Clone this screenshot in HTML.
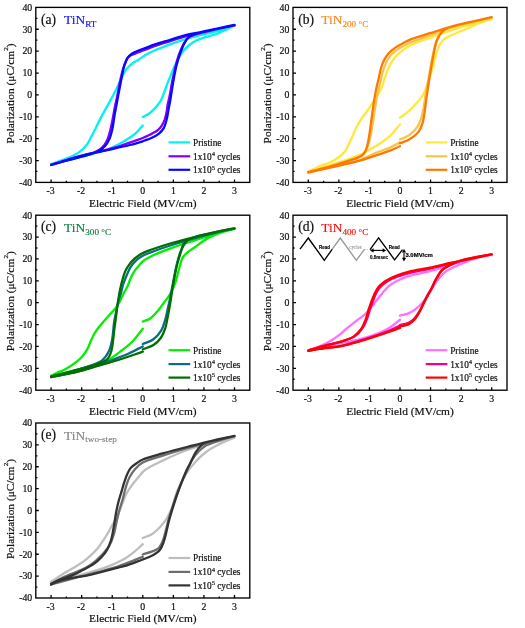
<!DOCTYPE html>
<html><head><meta charset="utf-8"><style>html,body{margin:0;padding:0;background:#fff;overflow:hidden}svg{display:block;filter:blur(0.3px)}</style></head><body>
<svg width="525" height="628" viewBox="0 0 525 628">
<rect width="100%" height="100%" fill="#fff"/>
<path d="M51.09 182.4v-3M66.37 182.4v-1.6M81.66 182.4v-3M96.94 182.4v-1.6M112.23 182.4v-3M127.51 182.4v-1.6M142.8 182.4v-3M158.09 182.4v-1.6M173.37 182.4v-3M188.66 182.4v-1.6M203.94 182.4v-3M219.23 182.4v-1.6M234.51 182.4v-3M35.8 171.46h1.6M35.8 160.53h3M35.8 149.59h1.6M35.8 138.65h3M35.8 127.71h1.6M35.8 116.78h3M35.8 105.84h1.6M35.8 94.9h3M35.8 83.96h1.6M35.8 73.03h3M35.8 62.09h1.6M35.8 51.15h3M35.8 40.21h1.6M35.8 29.27h3M35.8 18.34h1.6" stroke="#000" stroke-width="1.3" fill="none"/>
<path d="M142.80 116.91C144.74 115.91 146.75 115.19 148.61 113.93C150.63 112.57 152.76 110.59 154.42 108.90C155.85 107.45 156.96 106.03 158.09 104.53C159.20 103.04 160.21 101.71 161.14 99.93C162.29 97.75 163.20 94.89 164.20 92.27C165.24 89.57 166.22 86.67 167.26 83.96C168.26 81.35 169.29 78.84 170.31 76.31C171.33 73.81 172.32 71.26 173.37 68.87C174.37 66.60 175.38 64.40 176.43 62.31C177.42 60.33 178.42 58.39 179.49 56.62C180.47 54.98 181.49 53.45 182.54 52.02C183.53 50.69 184.26 49.62 185.60 48.31C187.50 46.43 190.35 43.92 193.24 42.18C196.40 40.29 200.03 39.02 203.94 37.59C208.48 35.92 213.95 34.93 218.92 32.99C224.14 30.96 229.32 28.04 234.51 25.56M234.51 25.56C228.30 27.53 221.80 29.80 215.87 31.46C210.54 32.95 205.64 33.90 200.58 35.18C195.56 36.45 190.59 37.61 185.60 39.12C180.50 40.66 175.39 42.52 170.31 44.37C165.20 46.23 159.36 48.39 155.03 50.28C151.73 51.71 149.22 52.86 146.47 54.43C143.72 56.00 141.10 58.03 138.52 59.68C136.12 61.22 133.50 62.45 131.49 64.06C129.70 65.47 128.24 66.99 126.90 68.65C125.60 70.28 124.61 72.01 123.54 73.90C122.36 75.99 121.32 78.27 120.18 80.68C118.89 83.40 117.76 86.27 116.20 89.43C114.30 93.30 111.81 97.81 109.48 102.12C107.03 106.63 104.20 111.42 101.83 115.90C99.63 120.08 97.62 124.39 95.72 128.15C94.09 131.38 92.70 134.25 91.13 137.12C89.64 139.85 88.47 142.53 86.55 144.99C84.47 147.66 81.85 150.32 78.91 152.43C75.78 154.67 72.25 156.15 68.21 157.90C63.23 160.05 56.79 161.98 51.09 164.02M51.09 164.46C56.18 163.15 60.53 162.02 66.37 160.53C74.20 158.52 86.50 155.49 93.89 153.53C98.88 152.19 102.33 151.54 106.42 150.03C110.59 148.49 114.70 146.43 118.65 144.34C122.55 142.27 126.73 139.77 129.96 137.56C132.55 135.78 134.58 134.27 136.69 132.31C138.87 130.27 140.76 127.79 142.80 125.53" fill="none" stroke="#00f2f2" stroke-width="2.3" stroke-linecap="round" stroke-linejoin="round"/>
<path d="M142.80 137.99C145.35 136.83 147.93 135.82 150.44 134.49C153.03 133.13 156.10 131.59 158.09 129.90C159.67 128.55 160.67 127.18 161.75 125.53C162.94 123.72 164.01 121.60 164.81 119.40C165.67 117.04 166.18 114.23 166.65 111.74C167.08 109.43 167.13 107.30 167.56 104.96C168.03 102.42 168.76 100.15 169.40 97.09C170.27 92.83 171.13 86.87 172.15 81.78C173.17 76.66 174.27 71.28 175.51 66.46C176.64 62.07 177.75 57.93 179.18 53.99C180.52 50.30 181.99 46.43 183.77 43.49C185.23 41.07 186.76 38.85 188.66 37.37C190.37 36.04 191.86 35.64 194.47 34.74C199.30 33.07 208.97 31.11 215.87 29.49C222.29 27.99 228.30 26.72 234.51 25.34M234.51 25.34C228.30 26.72 221.77 28.16 215.87 29.49C210.52 30.70 205.65 31.86 200.58 32.99C195.56 34.12 190.59 34.95 185.60 36.27C180.50 37.63 175.41 39.48 170.31 41.09C165.22 42.69 159.37 44.39 155.03 45.90C151.74 47.05 149.27 48.11 146.47 49.18C143.77 50.22 141.25 51.13 138.52 52.24C135.56 53.45 131.50 54.40 129.35 56.18C127.68 57.57 126.98 59.27 125.99 61.21C124.79 63.53 123.82 66.43 122.93 69.31C121.96 72.45 121.30 75.64 120.48 79.37C119.47 83.98 118.43 89.94 117.43 94.90C116.50 99.46 115.54 103.65 114.67 108.03C113.81 112.40 113.08 116.98 112.23 121.15C111.45 124.97 110.72 128.71 109.78 132.09C108.96 135.07 108.34 137.80 107.03 140.40C105.70 143.05 104.01 145.80 101.83 147.84C99.64 149.90 96.92 151.33 93.89 152.65C90.34 154.20 86.00 154.90 81.66 156.15C76.70 157.57 70.95 159.26 65.76 160.74C60.77 162.17 55.98 163.51 51.09 164.90M51.09 164.90C60.87 161.91 71.22 158.44 80.43 155.93C88.51 153.74 96.36 152.23 103.36 150.46C109.33 148.96 115.11 147.57 119.87 146.09C123.58 144.93 126.15 143.83 129.65 142.59C133.71 141.15 138.42 139.53 142.80 137.99" fill="none" stroke="#8000ff" stroke-width="2.3" stroke-linecap="round" stroke-linejoin="round"/>
<path d="M142.80 141.28C145.65 140.18 148.63 139.29 151.36 137.99C154.03 136.73 156.86 135.39 159.00 133.62C160.98 131.99 162.64 130.16 163.89 127.93C165.26 125.49 165.89 122.35 166.65 119.40C167.43 116.31 167.87 113.00 168.48 109.77C169.09 106.51 169.65 103.74 170.31 99.93C171.23 94.67 172.30 87.06 173.37 81.12C174.34 75.74 175.24 70.60 176.43 65.81C177.51 61.47 178.68 57.46 180.10 53.56C181.45 49.82 182.96 45.83 184.68 42.84C186.08 40.41 187.50 38.20 189.27 36.71C190.82 35.42 192.08 34.97 194.47 34.09C199.11 32.37 208.96 30.37 215.87 28.84C222.28 27.41 228.30 26.36 234.51 25.12M234.51 24.90C228.30 26.21 221.77 27.58 215.87 28.84C210.52 29.98 205.65 31.06 200.58 32.12C195.56 33.17 190.59 33.92 185.60 35.18C180.50 36.47 175.41 38.24 170.31 39.77C165.22 41.31 159.37 42.89 155.03 44.37C151.74 45.49 149.27 46.61 146.47 47.65C143.78 48.65 141.06 49.41 138.52 50.49C136.07 51.54 133.41 52.62 131.49 53.99C129.86 55.16 128.54 56.47 127.51 57.93C126.53 59.32 126.02 60.89 125.37 62.52C124.68 64.30 124.07 66.15 123.54 68.21C122.92 70.61 122.55 73.36 122.01 76.09C121.43 79.03 120.78 82.18 120.18 85.28C119.56 88.44 118.95 91.67 118.34 94.90C117.73 98.16 117.12 101.46 116.51 104.74C115.90 108.03 115.28 111.04 114.67 114.59C113.96 118.74 113.47 123.92 112.53 128.15C111.69 131.96 110.87 135.71 109.48 138.87C108.24 141.67 106.76 144.26 104.89 146.31C103.15 148.22 101.21 149.57 98.78 150.90C95.80 152.52 92.33 153.50 88.08 154.84C82.03 156.75 72.42 158.92 65.76 160.74C60.35 162.23 55.98 163.51 51.09 164.90M51.09 164.90C60.87 161.98 71.22 158.58 80.43 156.15C88.51 154.02 95.43 152.69 103.36 150.90C111.90 148.98 122.71 146.85 129.96 144.99C135.04 143.70 138.52 142.51 142.80 141.28" fill="none" stroke="#0808ff" stroke-width="2.3" stroke-linecap="round" stroke-linejoin="round"/>
<rect x="35.8" y="7.4" width="214" height="175" fill="none" stroke="#000" stroke-width="1.35"/>
<g style="font-family:'Liberation Serif',serif;font-size:9.8px" fill="#111" stroke="#111" stroke-width="0.2"><text x="50.59" y="194.3" text-anchor="middle">-3</text><text x="81.16" y="194.3" text-anchor="middle">-2</text><text x="111.73" y="194.3" text-anchor="middle">-1</text><text x="142.8" y="194.3" text-anchor="middle">0</text><text x="173.37" y="194.3" text-anchor="middle">1</text><text x="203.94" y="194.3" text-anchor="middle">2</text><text x="234.51" y="194.3" text-anchor="middle">3</text><text x="32.2" y="185.7" text-anchor="end">-40</text><text x="32.2" y="163.83" text-anchor="end">-30</text><text x="32.2" y="141.95" text-anchor="end">-20</text><text x="32.2" y="120.08" text-anchor="end">-10</text><text x="32.2" y="98.2" text-anchor="end">0</text><text x="32.2" y="76.33" text-anchor="end">10</text><text x="32.2" y="54.45" text-anchor="end">20</text><text x="32.2" y="32.57" text-anchor="end">30</text><text x="32.2" y="10.7" text-anchor="end">40</text></g>
<text x="142.8" y="206.7" text-anchor="middle" style="font-family:'Liberation Serif',serif;font-size:11.4px" fill="#111" stroke="#111" stroke-width="0.2">Electric Field (MV/cm)</text>
<text transform="translate(13.8 93.4) rotate(-90)" text-anchor="middle" style="font-family:'Liberation Serif',serif;font-size:11.4px" fill="#111" stroke="#111" stroke-width="0.2">Polarization (μC/cm<tspan dy="-6.2" dx="0.2" style="font-size:7.1px">2</tspan><tspan dy="6.2">)</tspan></text>
<text x="41" y="23.6" style="font-family:'Liberation Serif',serif;font-size:13.6px" fill="#111" stroke="#111" stroke-width="0.2">(a)</text>
<text x="64.1" y="24.3" style="font-family:'Liberation Serif',serif;font-size:13.4px" fill="#1010ff" stroke="#1010ff" stroke-width="0.15">TiN<tspan dy="2.5" style="font-size:9.2px">RT</tspan></text>
<line x1="168.5" x2="190.2" y1="142.4" y2="142.4" stroke="#00f2f2" stroke-width="2.2"/>
<text x="193" y="145.8" style="font-family:'Liberation Serif',serif;font-size:9.3px" fill="#111" stroke="#111" stroke-width="0.2">Pristine</text>
<line x1="168.5" x2="190.2" y1="156.3" y2="156.3" stroke="#8000ff" stroke-width="2.2"/>
<text x="193" y="159.7" style="font-family:'Liberation Serif',serif;font-size:9.3px" fill="#111" stroke="#111" stroke-width="0.2">1x10<tspan dy="-3.6" dx="0.3" style="font-size:6px">4</tspan><tspan dy="3.6"> cycles</tspan></text>
<line x1="168.5" x2="190.2" y1="169.8" y2="169.8" stroke="#0808ff" stroke-width="2.2"/>
<text x="193" y="173.2" style="font-family:'Liberation Serif',serif;font-size:9.3px" fill="#111" stroke="#111" stroke-width="0.2">1x10<tspan dy="-3.6" dx="0.3" style="font-size:6px">5</tspan><tspan dy="3.6"> cycles</tspan></text>
<path d="M308.29 182.4v-3M323.57 182.4v-1.6M338.86 182.4v-3M354.14 182.4v-1.6M369.43 182.4v-3M384.71 182.4v-1.6M400 182.4v-3M415.29 182.4v-1.6M430.57 182.4v-3M445.86 182.4v-1.6M461.14 182.4v-3M476.43 182.4v-1.6M491.71 182.4v-3M293 171.46h1.6M293 160.53h3M293 149.59h1.6M293 138.65h3M293 127.71h1.6M293 116.78h3M293 105.84h1.6M293 94.9h3M293 83.96h1.6M293 73.03h3M293 62.09h1.6M293 51.15h3M293 40.21h1.6M293 29.27h3M293 18.34h1.6" stroke="#000" stroke-width="1.3" fill="none"/>
<path d="M400.00 117.65C402.45 115.90 404.90 114.45 407.34 112.40C410.10 110.08 412.99 107.23 415.59 104.31C418.30 101.27 421.19 98.02 423.23 94.46C425.26 90.94 426.32 87.26 427.82 83.09C429.59 78.15 431.33 72.34 433.02 66.68C434.80 60.69 436.13 52.91 438.21 48.09C439.67 44.71 440.84 42.18 443.11 39.99C445.53 37.66 449.18 36.41 452.58 34.74C456.36 32.89 460.43 31.36 464.81 29.49C469.90 27.32 476.42 24.35 481.32 22.49C485.15 21.04 488.25 20.16 491.71 18.99M491.71 18.99C484.78 20.82 477.81 22.53 470.93 24.46C464.06 26.39 457.24 28.37 450.44 30.59C443.59 32.82 436.56 35.40 429.96 37.81C423.74 40.07 416.74 42.23 411.92 44.59C408.45 46.29 405.98 47.95 403.36 49.84C400.91 51.61 398.64 53.43 396.64 55.52C394.67 57.59 392.95 59.87 391.44 62.31C389.88 64.81 388.60 67.67 387.47 70.40C386.36 73.06 385.65 75.71 384.71 78.49C383.72 81.46 382.71 85.11 381.66 87.68C380.86 89.64 380.28 90.84 379.21 92.71C377.75 95.27 375.40 98.42 373.40 101.46C371.24 104.75 368.88 108.57 366.68 111.74C364.71 114.57 362.62 116.92 360.87 119.62C359.16 122.25 357.75 124.82 356.28 127.71C354.67 130.90 353.15 134.80 351.70 137.99C350.42 140.80 349.38 143.36 348.03 145.87C346.72 148.31 345.63 150.74 343.75 152.87C341.66 155.24 338.31 157.52 335.80 159.21C333.77 160.58 332.26 161.46 329.99 162.49C327.07 163.83 323.10 164.78 319.60 166.21C315.87 167.74 312.06 169.71 308.29 171.46M308.29 172.12C314.40 170.15 319.97 168.39 326.63 166.21C334.61 163.60 346.01 160.01 352.92 157.46C357.51 155.77 360.50 154.70 364.23 152.87C368.15 150.94 371.85 148.67 375.85 146.09C380.38 143.15 385.80 139.76 389.91 136.03C393.79 132.50 396.64 128.30 400.00 124.43" fill="none" stroke="#ffe83c" stroke-width="2.3" stroke-linecap="round" stroke-linejoin="round"/>
<path d="M400.00 139.53C403.06 138.07 406.35 137.15 409.17 135.15C412.20 133.00 415.33 129.99 417.43 126.84C419.47 123.77 420.60 120.19 421.71 116.56C422.88 112.71 423.47 108.22 424.15 104.31C424.77 100.74 425.04 97.86 425.68 94.03C426.49 89.14 427.70 83.10 428.74 77.40C429.84 71.38 430.86 64.69 432.10 58.81C433.23 53.44 434.15 47.96 435.77 43.49C437.12 39.76 438.53 36.20 440.66 33.65C442.52 31.42 444.27 30.13 447.39 28.62C452.69 26.04 463.31 24.18 470.93 22.27C478.05 20.49 484.78 19.07 491.71 17.46M491.71 17.46C484.78 19.14 477.82 20.74 470.93 22.49C464.06 24.24 457.22 25.83 450.44 27.96C443.57 30.12 436.57 33.00 429.96 35.40C423.76 37.65 416.79 39.96 411.92 41.96C408.51 43.37 406.12 44.40 403.36 45.90C400.61 47.39 397.77 49.07 395.41 50.93C393.22 52.66 391.24 54.50 389.61 56.62C387.98 58.73 386.75 61.16 385.63 63.62C384.50 66.12 383.68 68.75 382.88 71.49C382.03 74.42 381.48 77.53 380.74 80.68C379.96 84.01 379.07 87.35 378.29 90.96C377.43 94.96 376.63 99.22 375.85 103.65C374.99 108.51 374.19 114.06 373.40 118.96C372.67 123.51 372.03 128.04 371.26 132.09C370.59 135.61 369.96 138.93 369.12 141.93C368.40 144.55 367.74 147.05 366.68 149.15C365.75 150.99 364.77 152.64 363.31 153.96C361.76 155.37 359.77 156.21 357.51 157.24C354.59 158.58 351.02 159.64 347.11 160.96C342.13 162.65 336.06 164.67 329.99 166.43C323.21 168.40 315.52 170.22 308.29 172.12M308.29 172.34C315.52 170.66 322.25 169.12 329.99 167.31C338.90 165.22 350.58 163.29 358.73 160.53C365.11 158.36 369.86 155.30 375.24 153.09C380.24 151.03 385.53 149.57 389.91 147.62C393.64 145.96 396.64 144.12 400.00 142.37" fill="none" stroke="#f7c44a" stroke-width="2.3" stroke-linecap="round" stroke-linejoin="round"/>
<path d="M400.00 143.24C403.06 142.00 406.24 141.26 409.17 139.53C412.38 137.63 416.07 135.00 418.34 132.09C420.45 129.39 421.54 126.39 422.62 122.90C423.93 118.71 424.35 113.21 425.07 108.46C425.77 103.88 426.19 99.86 426.90 94.90C427.77 88.85 428.85 81.51 429.96 74.78C431.09 67.95 432.34 60.42 433.63 54.21C434.70 49.02 435.32 43.99 436.99 39.99C438.36 36.72 440.13 33.82 442.19 31.68C443.98 29.82 445.47 28.80 448.30 27.52C453.34 25.27 463.53 23.58 470.93 21.84C477.99 20.17 484.78 18.78 491.71 17.24M491.71 17.24C484.78 18.78 477.82 20.23 470.93 21.84C464.06 23.44 457.24 24.98 450.44 26.87C443.59 28.77 436.57 31.15 429.96 33.21C423.75 35.15 416.77 36.97 411.92 38.90C408.48 40.27 406.14 41.58 403.36 43.06C400.64 44.50 397.88 45.91 395.41 47.65C393.00 49.35 390.60 51.21 388.69 53.34C386.85 55.39 385.37 57.70 384.10 60.12C382.81 62.58 381.89 65.22 381.05 67.99C380.14 70.96 379.65 74.20 378.91 77.40C378.13 80.75 377.23 83.99 376.46 87.68C375.58 91.93 374.79 96.62 374.01 101.46C373.15 106.84 372.32 113.16 371.57 118.53C370.90 123.30 370.38 127.81 369.73 132.09C369.15 135.93 368.65 139.78 367.90 143.03C367.28 145.70 366.69 148.19 365.76 150.24C364.99 151.94 364.27 153.39 363.01 154.62C361.60 155.99 359.69 156.89 357.51 157.90C354.64 159.22 351.02 160.14 347.11 161.40C342.12 163.00 336.06 164.96 329.99 166.65C323.21 168.54 315.52 170.30 308.29 172.12M308.29 172.56C315.52 170.95 322.26 169.51 329.99 167.74C338.91 165.70 350.51 163.24 358.73 160.96C365.03 159.22 369.91 157.47 375.24 155.71C380.28 154.05 385.51 152.39 389.91 150.68C393.62 149.24 396.64 147.76 400.00 146.31" fill="none" stroke="#ff7800" stroke-width="2.3" stroke-linecap="round" stroke-linejoin="round"/>
<rect x="293" y="7.4" width="214" height="175" fill="none" stroke="#000" stroke-width="1.35"/>
<g style="font-family:'Liberation Serif',serif;font-size:9.8px" fill="#111" stroke="#111" stroke-width="0.2"><text x="307.79" y="194.3" text-anchor="middle">-3</text><text x="338.36" y="194.3" text-anchor="middle">-2</text><text x="368.93" y="194.3" text-anchor="middle">-1</text><text x="400" y="194.3" text-anchor="middle">0</text><text x="430.57" y="194.3" text-anchor="middle">1</text><text x="461.14" y="194.3" text-anchor="middle">2</text><text x="491.71" y="194.3" text-anchor="middle">3</text><text x="289.4" y="185.7" text-anchor="end">-40</text><text x="289.4" y="163.83" text-anchor="end">-30</text><text x="289.4" y="141.95" text-anchor="end">-20</text><text x="289.4" y="120.08" text-anchor="end">-10</text><text x="289.4" y="98.2" text-anchor="end">0</text><text x="289.4" y="76.33" text-anchor="end">10</text><text x="289.4" y="54.45" text-anchor="end">20</text><text x="289.4" y="32.57" text-anchor="end">30</text><text x="289.4" y="10.7" text-anchor="end">40</text></g>
<text x="400" y="206.7" text-anchor="middle" style="font-family:'Liberation Serif',serif;font-size:11.4px" fill="#111" stroke="#111" stroke-width="0.2">Electric Field (MV/cm)</text>
<text transform="translate(271 93.4) rotate(-90)" text-anchor="middle" style="font-family:'Liberation Serif',serif;font-size:11.4px" fill="#111" stroke="#111" stroke-width="0.2">Polarization (μC/cm<tspan dy="-6.2" dx="0.2" style="font-size:7.1px">2</tspan><tspan dy="6.2">)</tspan></text>
<text x="298.2" y="23.6" style="font-family:'Liberation Serif',serif;font-size:13.6px" fill="#111" stroke="#111" stroke-width="0.2">(b)</text>
<text x="321.3" y="24.3" style="font-family:'Liberation Serif',serif;font-size:13.4px" fill="#ff8418" stroke="#ff8418" stroke-width="0.15">TiN<tspan dy="2.5" style="font-size:9.2px">200 °C</tspan></text>
<line x1="425.7" x2="447.4" y1="142.4" y2="142.4" stroke="#ffe83c" stroke-width="2.2"/>
<text x="450.2" y="145.8" style="font-family:'Liberation Serif',serif;font-size:9.3px" fill="#111" stroke="#111" stroke-width="0.2">Pristine</text>
<line x1="425.7" x2="447.4" y1="156.3" y2="156.3" stroke="#f7c44a" stroke-width="2.2"/>
<text x="450.2" y="159.7" style="font-family:'Liberation Serif',serif;font-size:9.3px" fill="#111" stroke="#111" stroke-width="0.2">1x10<tspan dy="-3.6" dx="0.3" style="font-size:6px">4</tspan><tspan dy="3.6"> cycles</tspan></text>
<line x1="425.7" x2="447.4" y1="169.8" y2="169.8" stroke="#ff7800" stroke-width="2.2"/>
<text x="450.2" y="173.2" style="font-family:'Liberation Serif',serif;font-size:9.3px" fill="#111" stroke="#111" stroke-width="0.2">1x10<tspan dy="-3.6" dx="0.3" style="font-size:6px">5</tspan><tspan dy="3.6"> cycles</tspan></text>
<path d="M51.09 390.2v-3M66.37 390.2v-1.6M81.66 390.2v-3M96.94 390.2v-1.6M112.23 390.2v-3M127.51 390.2v-1.6M142.8 390.2v-3M158.09 390.2v-1.6M173.37 390.2v-3M188.66 390.2v-1.6M203.94 390.2v-3M219.23 390.2v-1.6M234.51 390.2v-3M35.8 379.26h1.6M35.8 368.32h3M35.8 357.39h1.6M35.8 346.45h3M35.8 335.51h1.6M35.8 324.57h3M35.8 313.64h1.6M35.8 302.7h3M35.8 291.76h1.6M35.8 280.82h3M35.8 269.89h1.6M35.8 258.95h3M35.8 248.01h1.6M35.8 237.07h3M35.8 226.14h1.6" stroke="#000" stroke-width="1.3" fill="none"/>
<path d="M142.80 321.51C145.25 320.49 147.77 320.04 150.14 318.45C153.01 316.52 155.97 312.96 158.39 310.14C160.60 307.56 162.29 304.85 164.20 302.26C166.06 299.75 168.02 297.63 169.70 294.82C171.63 291.61 173.37 287.99 174.90 283.89C176.72 278.99 178.01 272.06 179.49 267.26C180.64 263.53 181.30 260.03 182.85 257.42C184.10 255.30 185.66 253.93 187.43 252.39C189.38 250.70 191.76 249.50 194.16 247.79C197.00 245.78 200.43 242.94 203.33 241.01C205.79 239.39 207.77 238.13 210.36 236.86C213.31 235.40 216.53 234.14 220.15 232.92C224.44 231.47 229.72 230.29 234.51 228.98M234.51 228.98C227.69 230.80 220.84 232.49 214.03 234.45C207.18 236.42 200.39 238.62 193.55 240.79C186.64 242.99 179.44 245.17 172.76 247.57C166.42 249.85 159.68 252.31 154.42 254.79C150.21 256.78 146.27 258.70 143.41 260.92C141.20 262.64 139.85 264.49 138.21 266.39C136.59 268.28 134.94 270.17 133.63 272.29C132.29 274.46 131.29 276.94 130.27 279.29C129.26 281.61 128.59 283.96 127.51 286.29C126.37 288.77 124.81 291.22 123.54 293.73C122.26 296.25 121.19 298.99 119.87 301.39C118.63 303.64 117.20 305.97 115.90 307.73C114.87 309.12 114.07 309.84 112.84 311.23C110.98 313.34 108.14 316.46 105.81 319.11C103.46 321.78 100.80 324.56 98.78 327.20C97.01 329.51 95.53 331.65 94.19 333.98C92.89 336.25 91.92 338.57 90.83 340.98C89.68 343.52 88.81 346.39 87.47 348.86C86.15 351.27 84.62 353.56 82.88 355.64C81.15 357.71 79.43 359.40 77.07 361.32C74.01 363.82 69.42 366.93 65.76 368.98C62.62 370.74 59.24 371.85 56.59 373.14C54.51 374.15 52.92 375.03 51.09 375.98M51.09 376.64C58.22 374.74 65.99 372.71 72.49 370.95C77.93 369.47 82.95 367.96 87.47 366.79C91.15 365.84 94.21 365.45 97.55 364.39C101.03 363.28 104.45 362.12 107.95 360.23C111.98 358.05 116.14 354.79 120.18 351.70C124.40 348.47 128.93 345.05 132.71 341.20C136.46 337.39 139.44 332.89 142.80 328.73" fill="none" stroke="#00f000" stroke-width="2.3" stroke-linecap="round" stroke-linejoin="round"/>
<path d="M142.80 344.04C146.37 342.44 150.43 341.48 153.50 339.23C156.53 337.01 159.20 333.89 161.14 330.70C163.06 327.54 164.04 323.74 165.12 320.20C166.17 316.73 166.81 312.97 167.56 309.70C168.22 306.83 168.72 304.82 169.40 301.61C170.38 296.89 171.58 290.11 172.76 284.11C174.02 277.73 175.26 270.29 176.73 264.42C177.95 259.57 179.13 255.01 180.71 251.29C181.97 248.32 183.26 245.77 184.99 243.64C186.57 241.69 187.78 240.26 190.49 238.82C195.43 236.21 206.44 234.50 214.03 232.70C221.08 231.03 227.69 229.78 234.51 228.32M234.51 228.32C227.69 229.93 220.85 231.43 214.03 233.14C207.19 234.85 200.39 236.69 193.55 238.61C186.63 240.55 179.81 242.47 172.76 244.73C165.35 247.11 155.78 250.36 150.14 252.61C146.67 253.99 144.42 254.83 141.88 256.32C139.44 257.77 137.09 259.50 135.16 261.36C133.36 263.09 131.88 264.97 130.57 267.04C129.22 269.18 128.24 271.71 127.21 274.04C126.21 276.31 125.23 278.83 124.46 280.82C123.86 282.37 123.43 283.32 122.93 284.98C122.21 287.34 121.58 290.93 120.79 293.73C120.04 296.38 119.07 298.64 118.34 301.39C117.52 304.49 116.90 308.01 116.20 311.45C115.47 315.07 114.68 318.52 114.06 322.61C113.32 327.54 113.20 333.98 112.23 339.01C111.38 343.43 110.66 347.60 108.87 351.26C107.14 354.79 105.01 358.19 101.83 360.67C98.22 363.49 92.17 364.93 87.77 366.57C83.99 367.98 81.44 368.81 77.07 370.07C70.33 372.03 59.75 374.45 51.09 376.64M51.09 377.07C59.75 375.25 68.93 373.66 77.07 371.61C84.43 369.75 91.40 367.65 97.86 365.48C103.64 363.54 108.81 361.41 114.06 359.36C119.09 357.40 123.94 355.61 128.74 353.45C133.52 351.30 138.11 348.78 142.80 346.45" fill="none" stroke="#0a6e80" stroke-width="2.3" stroke-linecap="round" stroke-linejoin="round"/>
<path d="M142.80 349.29C146.37 347.84 150.40 346.95 153.50 344.92C156.48 342.97 159.19 340.26 161.14 337.48C163.00 334.84 164.01 332.07 165.12 328.73C166.47 324.63 167.28 319.04 168.17 314.51C168.99 310.40 169.58 307.04 170.31 302.70C171.21 297.40 171.99 291.05 173.07 284.98C174.21 278.53 175.61 270.94 177.04 265.07C178.19 260.34 179.63 255.95 180.71 252.39C181.50 249.77 181.85 247.58 182.85 245.61C183.74 243.84 184.76 242.26 186.21 241.01C187.77 239.67 189.38 238.96 192.02 237.95C196.93 236.08 206.81 234.11 214.03 232.48C220.96 230.92 227.69 229.71 234.51 228.32M234.51 228.32C227.69 229.71 220.85 230.99 214.03 232.48C207.19 233.98 200.39 235.59 193.55 237.29C186.63 239.02 179.81 240.71 172.76 242.76C165.35 244.92 155.78 247.89 150.14 249.98C146.67 251.27 144.48 252.03 141.88 253.48C139.28 254.94 136.72 256.78 134.55 258.73C132.47 260.59 130.64 262.68 129.04 264.86C127.49 266.99 126.14 269.25 125.07 271.64C123.99 274.06 123.32 276.92 122.62 279.29C122.03 281.32 121.60 282.87 121.09 284.98C120.47 287.58 119.81 290.74 119.26 293.73C118.68 296.86 118.19 300.14 117.73 303.36C117.27 306.56 116.89 310.03 116.51 312.98C116.18 315.50 115.92 317.50 115.59 319.98C115.22 322.79 114.76 325.81 114.37 328.95C113.94 332.41 113.65 336.21 113.15 339.89C112.63 343.65 112.43 347.85 111.31 351.26C110.30 354.34 109.20 357.51 107.03 359.57C104.78 361.72 101.59 362.34 97.86 363.73C92.38 365.77 84.40 367.82 77.07 369.86C68.91 372.12 59.75 374.38 51.09 376.64M51.09 377.07C59.75 375.32 68.93 373.80 77.07 371.82C84.42 370.04 90.96 367.89 97.86 365.92C104.71 363.96 111.24 362.24 118.34 360.01C126.16 357.56 134.65 354.47 142.80 351.70" fill="none" stroke="#006f00" stroke-width="2.3" stroke-linecap="round" stroke-linejoin="round"/>
<rect x="35.8" y="215.2" width="214" height="175" fill="none" stroke="#000" stroke-width="1.35"/>
<g style="font-family:'Liberation Serif',serif;font-size:9.8px" fill="#111" stroke="#111" stroke-width="0.2"><text x="50.59" y="402.1" text-anchor="middle">-3</text><text x="81.16" y="402.1" text-anchor="middle">-2</text><text x="111.73" y="402.1" text-anchor="middle">-1</text><text x="142.8" y="402.1" text-anchor="middle">0</text><text x="173.37" y="402.1" text-anchor="middle">1</text><text x="203.94" y="402.1" text-anchor="middle">2</text><text x="234.51" y="402.1" text-anchor="middle">3</text><text x="32.2" y="393.5" text-anchor="end">-40</text><text x="32.2" y="371.62" text-anchor="end">-30</text><text x="32.2" y="349.75" text-anchor="end">-20</text><text x="32.2" y="327.88" text-anchor="end">-10</text><text x="32.2" y="306" text-anchor="end">0</text><text x="32.2" y="284.12" text-anchor="end">10</text><text x="32.2" y="262.25" text-anchor="end">20</text><text x="32.2" y="240.38" text-anchor="end">30</text><text x="32.2" y="218.5" text-anchor="end">40</text></g>
<text x="142.8" y="414.5" text-anchor="middle" style="font-family:'Liberation Serif',serif;font-size:11.4px" fill="#111" stroke="#111" stroke-width="0.2">Electric Field (MV/cm)</text>
<text transform="translate(13.8 301.2) rotate(-90)" text-anchor="middle" style="font-family:'Liberation Serif',serif;font-size:11.4px" fill="#111" stroke="#111" stroke-width="0.2">Polarization (μC/cm<tspan dy="-6.2" dx="0.2" style="font-size:7.1px">2</tspan><tspan dy="6.2">)</tspan></text>
<text x="41" y="231.4" style="font-family:'Liberation Serif',serif;font-size:13.6px" fill="#111" stroke="#111" stroke-width="0.2">(c)</text>
<text x="64.1" y="232.1" style="font-family:'Liberation Serif',serif;font-size:13.4px" fill="#0e7d3e" stroke="#0e7d3e" stroke-width="0.15">TiN<tspan dy="2.5" style="font-size:9.2px">300 °C</tspan></text>
<line x1="168.5" x2="190.2" y1="350.2" y2="350.2" stroke="#00f000" stroke-width="2.2"/>
<text x="193" y="353.6" style="font-family:'Liberation Serif',serif;font-size:9.3px" fill="#111" stroke="#111" stroke-width="0.2">Pristine</text>
<line x1="168.5" x2="190.2" y1="364.1" y2="364.1" stroke="#0a6e80" stroke-width="2.2"/>
<text x="193" y="367.5" style="font-family:'Liberation Serif',serif;font-size:9.3px" fill="#111" stroke="#111" stroke-width="0.2">1x10<tspan dy="-3.6" dx="0.3" style="font-size:6px">4</tspan><tspan dy="3.6"> cycles</tspan></text>
<line x1="168.5" x2="190.2" y1="377.6" y2="377.6" stroke="#006f00" stroke-width="2.2"/>
<text x="193" y="381" style="font-family:'Liberation Serif',serif;font-size:9.3px" fill="#111" stroke="#111" stroke-width="0.2">1x10<tspan dy="-3.6" dx="0.3" style="font-size:6px">5</tspan><tspan dy="3.6"> cycles</tspan></text>
<path d="M308.29 390.2v-3M323.57 390.2v-1.6M338.86 390.2v-3M354.14 390.2v-1.6M369.43 390.2v-3M384.71 390.2v-1.6M400 390.2v-3M415.29 390.2v-1.6M430.57 390.2v-3M445.86 390.2v-1.6M461.14 390.2v-3M476.43 390.2v-1.6M491.71 390.2v-3M293 379.26h1.6M293 368.32h3M293 357.39h1.6M293 346.45h3M293 335.51h1.6M293 324.57h3M293 313.64h1.6M293 302.7h3M293 291.76h1.6M293 280.82h3M293 269.89h1.6M293 258.95h3M293 248.01h1.6M293 237.07h3M293 226.14h1.6" stroke="#000" stroke-width="1.3" fill="none"/>
<path d="M400.00 315.61C402.85 314.88 405.85 314.59 408.56 313.42C411.36 312.21 414.04 310.36 416.51 308.39C419.04 306.36 421.44 303.89 423.54 301.39C425.61 298.93 427.34 296.15 429.04 293.51C430.69 290.97 432.06 288.28 433.63 285.86C435.12 283.56 436.37 281.52 438.21 279.29C440.41 276.65 443.13 273.42 446.16 271.20C449.23 268.96 452.92 267.65 456.56 265.95C460.44 264.14 464.64 262.23 468.79 260.70C472.90 259.18 477.32 257.85 481.32 256.76C484.93 255.78 488.25 255.16 491.71 254.36M491.71 254.36C484.78 256.03 477.82 257.63 470.93 259.39C464.06 261.13 457.25 262.89 450.44 264.86C443.60 266.83 436.77 269.40 429.96 271.20C423.32 272.96 415.55 273.92 410.09 275.57C406.11 276.78 403.26 277.98 400.00 279.51C396.74 281.04 393.38 282.61 390.52 284.76C387.67 286.91 385.25 289.76 382.88 292.42C380.57 295.02 378.88 297.50 376.46 300.51C373.36 304.37 369.50 310.03 365.76 313.64C362.53 316.76 358.93 318.73 355.67 321.29C352.52 323.77 349.30 326.37 346.50 328.73C344.06 330.79 342.30 332.70 339.77 334.64C336.88 336.86 333.37 339.26 329.99 341.20C326.64 343.12 323.17 344.68 319.60 346.23C315.94 347.82 312.06 349.15 308.29 350.61M308.29 350.61C314.71 349.00 321.48 347.16 327.55 345.79C332.92 344.58 337.74 343.75 342.83 342.73C347.93 341.71 353.05 340.93 358.12 339.67C363.24 338.39 368.37 336.94 373.40 335.07C378.56 333.17 384.11 330.99 388.69 328.29C392.90 325.82 396.23 322.61 400.00 319.76" fill="none" stroke="#ff70ff" stroke-width="2.3" stroke-linecap="round" stroke-linejoin="round"/>
<path d="M400.00 325.01C402.85 324.28 406.08 324.01 408.56 322.82C410.81 321.75 412.66 320.19 414.37 318.45C416.14 316.64 417.51 314.46 418.95 312.11C420.59 309.43 422.01 306.13 423.54 303.14C425.07 300.15 426.75 296.64 428.13 294.17C429.13 292.36 429.86 291.45 430.88 289.57C432.39 286.77 434.14 282.20 436.07 278.86C437.92 275.66 439.71 272.29 442.19 269.89C444.54 267.61 447.45 266.14 450.44 264.64C453.63 263.04 457.36 261.77 460.84 260.70C464.19 259.67 466.95 259.14 470.93 258.29C476.60 257.08 484.78 255.67 491.71 254.36M491.71 254.36C484.78 255.81 477.82 257.23 470.93 258.73C464.07 260.22 457.26 261.69 450.44 263.32C443.60 264.97 436.75 266.96 429.96 268.57C423.30 270.16 415.58 271.57 410.09 272.95C406.14 273.94 403.28 274.69 400.00 275.79C396.76 276.88 393.43 277.97 390.52 279.51C387.75 280.99 385.15 282.76 382.88 284.76C380.68 286.71 378.63 288.84 377.07 291.32C375.44 293.92 374.55 297.21 373.40 300.07C372.31 302.82 371.32 305.32 370.35 308.17C369.28 311.27 368.54 314.77 367.29 318.01C366.00 321.34 364.71 324.85 362.70 327.86C360.65 330.92 358.20 334.02 355.06 336.17C351.67 338.49 347.18 339.57 342.83 340.98C338.06 342.53 332.92 343.43 327.55 344.92C321.48 346.59 314.71 348.71 308.29 350.61M308.29 350.82C312.16 350.10 315.37 349.39 319.90 348.64C326.25 347.59 336.00 346.77 342.83 345.36C348.48 344.19 353.04 342.69 358.12 341.20C363.23 339.70 368.33 338.13 373.40 336.39C378.52 334.63 384.00 332.61 388.69 330.70C392.77 329.03 396.23 327.35 400.00 325.67" fill="none" stroke="#f5007f" stroke-width="2.3" stroke-linecap="round" stroke-linejoin="round"/>
<path d="M400.00 326.54C402.85 325.81 406.09 325.58 408.56 324.36C410.82 323.24 412.67 321.60 414.37 319.76C416.16 317.84 417.50 315.47 418.95 312.98C420.58 310.20 422.01 306.86 423.54 303.79C425.07 300.73 426.75 297.12 428.13 294.61C429.12 292.79 429.86 291.89 430.88 290.01C432.39 287.21 434.15 282.67 436.07 279.29C437.93 276.05 439.69 272.55 442.19 270.11C444.54 267.81 447.46 266.39 450.44 264.86C453.64 263.22 457.36 261.84 460.84 260.70C464.19 259.60 466.94 258.95 470.93 258.07C476.60 256.83 484.78 255.60 491.71 254.36M491.71 254.36C484.78 255.74 477.82 257.09 470.93 258.51C464.07 259.93 457.26 261.36 450.44 262.89C443.61 264.42 436.75 266.27 429.96 267.70C423.30 269.10 415.58 270.13 410.09 271.42C406.14 272.34 403.28 273.12 400.00 274.26C396.76 275.39 393.46 276.72 390.52 278.20C387.78 279.58 385.06 281.10 382.88 282.79C380.97 284.28 379.39 285.75 377.99 287.61C376.51 289.58 375.43 292.04 374.32 294.39C373.18 296.78 372.22 299.28 371.26 301.82C370.28 304.45 369.40 307.13 368.51 309.92C367.57 312.88 366.93 316.03 365.76 319.11C364.52 322.38 363.22 326.03 361.17 328.95C359.14 331.86 356.52 334.58 353.53 336.61C350.44 338.71 346.78 339.88 342.83 341.20C338.25 342.73 332.92 343.47 327.55 344.92C321.48 346.55 314.71 348.71 308.29 350.61M308.29 350.82C312.16 350.17 315.37 349.54 319.90 348.86C326.25 347.89 336.00 347.13 342.83 345.79C348.48 344.69 353.04 343.27 358.12 341.86C363.23 340.43 368.32 338.90 373.40 337.26C378.51 335.62 383.98 333.68 388.69 332.01C392.75 330.57 396.23 329.24 400.00 327.86" fill="none" stroke="#ff0000" stroke-width="2.3" stroke-linecap="round" stroke-linejoin="round"/>
<rect x="293" y="215.2" width="214" height="175" fill="none" stroke="#000" stroke-width="1.35"/>
<g style="font-family:'Liberation Serif',serif;font-size:9.8px" fill="#111" stroke="#111" stroke-width="0.2"><text x="307.79" y="402.1" text-anchor="middle">-3</text><text x="338.36" y="402.1" text-anchor="middle">-2</text><text x="368.93" y="402.1" text-anchor="middle">-1</text><text x="400" y="402.1" text-anchor="middle">0</text><text x="430.57" y="402.1" text-anchor="middle">1</text><text x="461.14" y="402.1" text-anchor="middle">2</text><text x="491.71" y="402.1" text-anchor="middle">3</text><text x="289.4" y="393.5" text-anchor="end">-40</text><text x="289.4" y="371.62" text-anchor="end">-30</text><text x="289.4" y="349.75" text-anchor="end">-20</text><text x="289.4" y="327.88" text-anchor="end">-10</text><text x="289.4" y="306" text-anchor="end">0</text><text x="289.4" y="284.12" text-anchor="end">10</text><text x="289.4" y="262.25" text-anchor="end">20</text><text x="289.4" y="240.38" text-anchor="end">30</text><text x="289.4" y="218.5" text-anchor="end">40</text></g>
<text x="400" y="414.5" text-anchor="middle" style="font-family:'Liberation Serif',serif;font-size:11.4px" fill="#111" stroke="#111" stroke-width="0.2">Electric Field (MV/cm)</text>
<text transform="translate(271 301.2) rotate(-90)" text-anchor="middle" style="font-family:'Liberation Serif',serif;font-size:11.4px" fill="#111" stroke="#111" stroke-width="0.2">Polarization (μC/cm<tspan dy="-6.2" dx="0.2" style="font-size:7.1px">2</tspan><tspan dy="6.2">)</tspan></text>
<text x="298.2" y="231.4" style="font-family:'Liberation Serif',serif;font-size:13.6px" fill="#111" stroke="#111" stroke-width="0.2">(d)</text>
<text x="321.3" y="232.1" style="font-family:'Liberation Serif',serif;font-size:13.4px" fill="#ff0a0a" stroke="#ff0a0a" stroke-width="0.15">TiN<tspan dy="2.5" style="font-size:9.2px">400 °C</tspan></text>
<line x1="425.7" x2="447.4" y1="350.2" y2="350.2" stroke="#ff70ff" stroke-width="2.2"/>
<text x="450.2" y="353.6" style="font-family:'Liberation Serif',serif;font-size:9.3px" fill="#111" stroke="#111" stroke-width="0.2">Pristine</text>
<line x1="425.7" x2="447.4" y1="364.1" y2="364.1" stroke="#f5007f" stroke-width="2.2"/>
<text x="450.2" y="367.5" style="font-family:'Liberation Serif',serif;font-size:9.3px" fill="#111" stroke="#111" stroke-width="0.2">1x10<tspan dy="-3.6" dx="0.3" style="font-size:6px">4</tspan><tspan dy="3.6"> cycles</tspan></text>
<line x1="425.7" x2="447.4" y1="377.6" y2="377.6" stroke="#ff0000" stroke-width="2.2"/>
<text x="450.2" y="381" style="font-family:'Liberation Serif',serif;font-size:9.3px" fill="#111" stroke="#111" stroke-width="0.2">1x10<tspan dy="-3.6" dx="0.3" style="font-size:6px">5</tspan><tspan dy="3.6"> cycles</tspan></text>
<path d="M51.09 598v-3M66.37 598v-1.6M81.66 598v-3M96.94 598v-1.6M112.23 598v-3M127.51 598v-1.6M142.8 598v-3M158.09 598v-1.6M173.37 598v-3M188.66 598v-1.6M203.94 598v-3M219.23 598v-1.6M234.51 598v-3M35.8 587.06h1.6M35.8 576.12h3M35.8 565.19h1.6M35.8 554.25h3M35.8 543.31h1.6M35.8 532.38h3M35.8 521.44h1.6M35.8 510.5h3M35.8 499.56h1.6M35.8 488.62h3M35.8 477.69h1.6M35.8 466.75h3M35.8 455.81h1.6M35.8 444.88h3M35.8 433.94h1.6" stroke="#000" stroke-width="1.3" fill="none"/>
<path d="M142.80 538.06C145.96 536.68 149.37 535.79 152.28 533.91C155.29 531.96 158.09 529.10 160.53 526.47C162.85 523.98 164.82 521.51 166.65 518.59C168.63 515.43 170.25 512.06 171.84 508.09C173.78 503.25 174.84 496.90 177.04 491.47C179.30 485.89 182.11 480.13 185.29 475.06C188.36 470.17 191.96 465.56 195.69 461.50C199.22 457.66 203.05 454.12 207.00 451.22C210.71 448.50 214.72 446.44 218.62 444.44C222.36 442.52 226.98 440.62 229.93 439.41C231.78 438.64 232.99 438.24 234.51 437.66M234.51 437.66C227.28 439.33 220.12 440.83 212.81 442.69C205.25 444.61 197.76 446.28 189.88 449.03C181.10 452.10 170.70 456.79 162.67 460.62C156.06 463.78 149.40 466.54 144.94 470.03C141.57 472.67 139.72 475.68 137.30 478.56C134.94 481.37 132.57 484.25 130.57 487.09C128.73 489.72 127.09 492.16 125.68 494.97C124.21 497.90 123.23 501.22 122.01 504.38C120.78 507.56 119.67 510.98 118.34 514.00C117.11 516.79 115.59 519.76 114.37 521.88C113.50 523.37 112.80 524.12 111.92 525.59C110.72 527.63 109.37 530.60 107.95 533.03C106.52 535.48 105.01 537.78 103.36 540.25C101.57 542.94 99.68 546.02 97.55 548.56C95.49 551.03 93.22 553.16 90.83 555.34C88.34 557.61 85.69 559.85 82.88 561.91C79.99 564.02 76.79 565.94 73.71 567.81C70.68 569.66 67.85 571.04 64.54 573.06C60.45 575.56 55.57 578.90 51.09 581.81M51.09 583.78C59.75 581.16 68.95 578.28 77.07 575.91C84.21 573.82 91.39 572.09 97.25 570.22C101.86 568.75 105.20 567.62 109.48 565.84C114.41 563.79 120.86 560.83 125.07 558.41C128.15 556.63 130.06 555.24 132.71 553.16C135.92 550.65 139.44 547.18 142.80 544.19" fill="none" stroke="#bebebe" stroke-width="2.3" stroke-linecap="round" stroke-linejoin="round"/>
<path d="M142.80 554.47C145.96 553.45 149.50 552.54 152.28 551.41C154.58 550.46 156.71 549.91 158.39 548.34C160.25 546.61 161.49 543.82 162.67 541.12C164.01 538.07 164.75 534.43 165.73 530.84C166.79 526.95 167.63 522.68 168.79 518.59C169.97 514.44 171.21 510.68 172.76 506.12C174.66 500.53 177.14 493.39 179.49 487.53C181.64 482.14 183.98 477.06 186.21 472.22C188.26 467.77 190.01 463.23 192.33 459.53C194.36 456.28 196.76 453.34 199.05 451.00C200.96 449.05 202.47 447.62 204.86 446.19C207.90 444.37 211.91 443.09 216.17 441.59C221.51 439.72 228.40 437.95 234.51 436.12M234.51 436.12C227.28 437.88 220.13 439.51 212.81 441.38C205.26 443.30 197.83 445.26 189.88 447.50C181.18 449.96 171.00 452.89 162.67 455.59C155.50 457.92 147.70 459.82 142.80 462.59C139.44 464.50 137.35 466.52 135.16 468.94C132.98 471.34 131.20 474.06 129.65 477.03C128.00 480.22 126.83 483.88 125.68 487.53C124.47 491.37 123.74 495.57 122.62 499.56C121.50 503.59 120.03 507.56 118.95 511.59C117.89 515.59 117.09 519.71 116.20 523.62C115.36 527.36 114.89 530.93 113.76 534.56C112.57 538.37 111.06 542.66 109.17 545.94C107.51 548.81 105.18 551.33 103.36 553.38C101.97 554.95 100.71 556.00 99.39 557.31C98.06 558.62 97.09 559.86 95.41 561.25C93.05 563.21 90.13 565.47 86.24 567.59C80.44 570.77 69.71 574.17 63.31 577.22C58.54 579.50 55.16 581.59 51.09 583.78M51.09 584.44C59.75 582.10 68.92 579.58 77.07 577.44C84.30 575.54 90.71 574.04 97.55 572.19C104.47 570.32 111.19 568.67 118.34 566.28C126.22 563.65 134.65 560.01 142.80 556.88" fill="none" stroke="#6e6e6e" stroke-width="2.3" stroke-linecap="round" stroke-linejoin="round"/>
<path d="M142.80 559.50C145.96 558.19 149.40 557.16 152.28 555.56C154.97 554.06 157.73 552.54 159.61 550.31C161.50 548.09 162.47 545.21 163.59 542.22C164.87 538.80 165.75 534.46 166.65 530.84C167.46 527.57 167.90 524.84 168.79 521.44C169.86 517.31 171.24 512.72 172.76 507.88C174.54 502.20 176.65 495.61 178.87 489.50C181.13 483.29 184.07 475.58 186.21 470.91C187.56 467.97 188.53 466.54 189.88 463.91C191.61 460.53 193.56 455.63 195.69 452.31C197.49 449.51 199.40 446.86 201.50 445.09C203.22 443.64 204.73 442.89 207.00 442.03C210.20 440.83 214.93 440.36 219.23 439.41C224.04 438.34 229.42 437.07 234.51 435.91M234.51 435.91C227.28 437.44 220.13 438.82 212.81 440.50C205.26 442.24 197.84 444.14 189.88 446.19C181.19 448.42 171.01 451.02 162.67 453.41C155.51 455.46 147.44 457.44 142.80 459.53C140.08 460.76 138.66 461.88 136.69 463.25C134.68 464.64 132.43 466.07 130.88 467.84C129.41 469.52 128.53 471.42 127.51 473.53C126.35 475.95 125.40 478.82 124.46 481.62C123.46 484.57 122.67 487.59 121.71 490.81C120.64 494.40 119.28 498.52 118.34 502.19C117.48 505.57 116.90 508.40 116.20 512.03C115.36 516.47 114.65 522.09 113.76 526.91C112.91 531.48 112.24 536.22 111.01 540.25C109.92 543.78 108.71 546.95 107.03 549.88C105.42 552.69 103.46 555.17 101.22 557.53C98.90 560.00 96.22 562.28 93.27 564.31C90.14 566.47 86.12 568.27 82.88 570.00C80.06 571.51 78.05 572.78 74.93 574.16C70.77 575.99 64.25 577.79 59.95 579.62C56.57 581.07 54.04 582.54 51.09 584.00M51.09 584.66C54.04 583.34 56.00 581.97 59.95 580.72C67.10 578.46 81.13 576.86 91.13 574.59C100.54 572.46 112.32 569.15 118.34 567.59C121.34 566.82 122.32 566.69 125.07 565.84C129.60 564.45 136.89 561.61 142.80 559.50" fill="none" stroke="#333333" stroke-width="2.3" stroke-linecap="round" stroke-linejoin="round"/>
<rect x="35.8" y="423" width="214" height="175" fill="none" stroke="#000" stroke-width="1.35"/>
<g style="font-family:'Liberation Serif',serif;font-size:9.8px" fill="#111" stroke="#111" stroke-width="0.2"><text x="50.59" y="609.9" text-anchor="middle">-3</text><text x="81.16" y="609.9" text-anchor="middle">-2</text><text x="111.73" y="609.9" text-anchor="middle">-1</text><text x="142.8" y="609.9" text-anchor="middle">0</text><text x="173.37" y="609.9" text-anchor="middle">1</text><text x="203.94" y="609.9" text-anchor="middle">2</text><text x="234.51" y="609.9" text-anchor="middle">3</text><text x="32.2" y="601.3" text-anchor="end">-40</text><text x="32.2" y="579.42" text-anchor="end">-30</text><text x="32.2" y="557.55" text-anchor="end">-20</text><text x="32.2" y="535.67" text-anchor="end">-10</text><text x="32.2" y="513.8" text-anchor="end">0</text><text x="32.2" y="491.93" text-anchor="end">10</text><text x="32.2" y="470.05" text-anchor="end">20</text><text x="32.2" y="448.18" text-anchor="end">30</text><text x="32.2" y="426.3" text-anchor="end">40</text></g>
<text x="142.8" y="622.3" text-anchor="middle" style="font-family:'Liberation Serif',serif;font-size:11.4px" fill="#111" stroke="#111" stroke-width="0.2">Electric Field (MV/cm)</text>
<text transform="translate(13.8 509) rotate(-90)" text-anchor="middle" style="font-family:'Liberation Serif',serif;font-size:11.4px" fill="#111" stroke="#111" stroke-width="0.2">Polarization (μC/cm<tspan dy="-6.2" dx="0.2" style="font-size:7.1px">2</tspan><tspan dy="6.2">)</tspan></text>
<text x="41" y="439.2" style="font-family:'Liberation Serif',serif;font-size:13.6px" fill="#111" stroke="#111" stroke-width="0.2">(e)</text>
<text x="64.1" y="439.9" style="font-family:'Liberation Serif',serif;font-size:13.4px" fill="#858585" stroke="#858585" stroke-width="0.15">TiN<tspan dy="2.5" style="font-size:9.2px">two-step</tspan></text>
<line x1="168.5" x2="190.2" y1="558" y2="558" stroke="#bebebe" stroke-width="2.2"/>
<text x="193" y="561.4" style="font-family:'Liberation Serif',serif;font-size:9.3px" fill="#111" stroke="#111" stroke-width="0.2">Pristine</text>
<line x1="168.5" x2="190.2" y1="571.9" y2="571.9" stroke="#6e6e6e" stroke-width="2.2"/>
<text x="193" y="575.3" style="font-family:'Liberation Serif',serif;font-size:9.3px" fill="#111" stroke="#111" stroke-width="0.2">1x10<tspan dy="-3.6" dx="0.3" style="font-size:6px">4</tspan><tspan dy="3.6"> cycles</tspan></text>
<line x1="168.5" x2="190.2" y1="585.4" y2="585.4" stroke="#333333" stroke-width="2.2"/>
<text x="193" y="588.8" style="font-family:'Liberation Serif',serif;font-size:9.3px" fill="#111" stroke="#111" stroke-width="0.2">1x10<tspan dy="-3.6" dx="0.3" style="font-size:6px">5</tspan><tspan dy="3.6"> cycles</tspan></text>

<g fill="none" stroke-linejoin="miter" stroke-linecap="butt">
<path d="M300 249.1L308.3 238L324.3 260.3L332.3 249.1" stroke="#000" stroke-width="1.35"/>
<path d="M332.3 249.1L340.3 238L356.3 260.3L364.7 249.1" stroke="#9a9a9a" stroke-width="1.35"/>
<path d="M370 249.7L378.6 237.8L394.6 259.8L402.5 249.7" stroke="#000" stroke-width="1.35"/>
<path d="M373 250.4H383" stroke="#000" stroke-width="1.1"/>
<path d="M404 252.5V258" stroke="#000" stroke-width="1.1"/>
</g>
<g fill="#000">
<path d="M370 250.4l3.6-2.1v4.2z"/>
<path d="M386.2 250.4l-3.6-2.1v4.2z"/>
<path d="M404 249l-2.1 3.6h4.2z"/>
<path d="M404 261.4l-2.1-3.6h4.2z"/>
<circle cx="365.9" cy="249.6" r="0.45" fill="#777"/><circle cx="367.3" cy="249.6" r="0.45" fill="#777"/>
</g>
<g style="font-family:'Liberation Sans',sans-serif;font-weight:bold;font-size:4.6px" fill="#000" stroke="#000" stroke-width="0.15">
<text x="318.9" y="248.6" textLength="11" lengthAdjust="spacingAndGlyphs">Read</text>
<text x="388.8" y="248.6" textLength="11" lengthAdjust="spacingAndGlyphs">Read</text>
<text x="370" y="258.7" textLength="18" lengthAdjust="spacingAndGlyphs">0.5msec</text>
<text x="405.4" y="256.6" textLength="27.5" lengthAdjust="spacingAndGlyphs">3.0MV/cm</text>
</g>
<text x="349.3" y="248.5" style="font-family:'Liberation Serif',serif;font-size:5.2px" fill="#707070" textLength="12.5" lengthAdjust="spacingAndGlyphs">cycles</text>

</svg>
</body></html>
